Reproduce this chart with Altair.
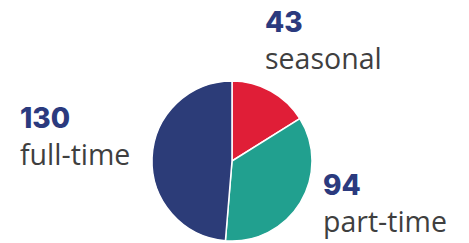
import altair as alt
import pandas as pd

categories = ["seasonal", "part-time", "full-time"]
values = [43, 94, 130]
colors = ["#E01E37", "#21A08F", "#2C3C78"]

df = pd.DataFrame({"category": categories, "value": values, "order": [0, 1, 2]})

W, H = 453, 235
cx, cy, r = 224, 153, 80

pie = alt.Chart(df).mark_arc(radius=r, stroke="white", strokeWidth=1.5).encode(
    theta=alt.Theta("value:Q", stack=True),
    order=alt.Order("order:Q"),
    color=alt.Color("category:N", scale=alt.Scale(domain=categories, range=colors), legend=None),
    x=alt.value(cx),
    y=alt.value(cy),
)

# label anchor (left x, baseline of number) per category
anchors = {"seasonal": (257, 24), "part-time": (315, 187), "full-time": (12, 120)}

layers = [pie]
for cat, val in zip(categories, values):
    ax, ay = anchors[cat]
    sub = df[df["category"] == cat]
    num = alt.Chart(sub).mark_text(
        align="left", baseline="alphabetic", font="Inter", fontWeight=800,
        fontSize=28, color="#2B3A7E"
    ).encode(text="value:Q", x=alt.value(ax), y=alt.value(ay))
    lab = alt.Chart(sub).mark_text(
        align="left", baseline="alphabetic", font="Open Sans", fontSize=28.5, color="#3F3F3F"
    ).encode(text="category:N", x=alt.value(ax), y=alt.value(ay + 37))
    layers += [num, lab]

chart = alt.layer(*layers).properties(
    width=W, height=H, padding=0, autosize=alt.AutoSizeParams(type="none")
).configure_view(stroke=None)

chart.save("out.html", embed_options={"renderer": "svg", "actions": False})
